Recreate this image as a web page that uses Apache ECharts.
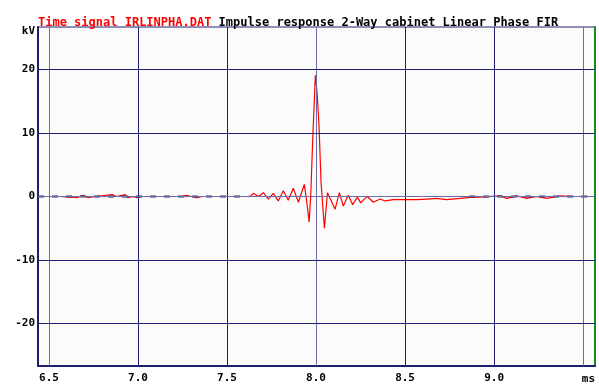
<!DOCTYPE html>
<html>
<head>
<meta charset="utf-8">
<script src="https://cdn.jsdelivr.net/npm/echarts@6/dist/echarts.min.js"></script>
<style>
html,body{margin:0;padding:0;background:#ffffff;}
#chart{width:599px;height:385px;}
</style>
</head>
<body>
<div id="chart"></div>
<script>
// ---- data ----
var titleRed = 'Time signal IRLINPHA.DAT';
var titleBlack = 'Impulse response 2-Way cabinet Linear Phase FIR';
var xMin = 6.438, xMax = 9.567;
var yMin = -26.7, yMax = 26.7;
var xTicks = [6.5, 7.0, 7.5, 8.0, 8.5, 9.0, 9.5];
var xTickLabels = ['6.5', '7.0', '7.5', '8.0', '8.5', '9.0'];
var yTicks = [-20, -10, 0, 10, 20];
var xUnit = 'ms', yUnit = 'kV';

// time (ms) and value (kV) of the red impulse response trace
var sigT = [6.438, 6.560, 6.657, 6.691, 6.719, 6.760, 6.854, 6.880, 6.927, 6.944, 6.970, 6.994, 7.020,
  7.250, 7.270, 7.300, 7.331, 7.360, 7.573, 7.629, 7.648, 7.676, 7.704, 7.732, 7.760, 7.788, 7.816,
  7.844, 7.872, 7.901, 7.934, 7.948, 7.961, 7.970, 7.981, 7.996, 8.006, 8.017, 8.028, 8.047, 8.064,
  8.075, 8.107, 8.131, 8.153, 8.181, 8.206, 8.232, 8.251, 8.275, 8.288, 8.322, 8.360, 8.388, 8.434,
  8.566, 8.622, 8.678, 8.734, 8.809, 8.865, 8.921, 9.034, 9.071, 9.128, 9.184, 9.240, 9.296, 9.371,
  9.446, 9.567];
var sigV = [0, 0, -0.2, 0.2, -0.2, 0, 0.3, 0, 0.3, -0.2, 0, -0.2, 0,
  0, 0.2, 0, -0.2, 0, 0, 0, 0.5, 0, 0.6, -0.4, 0.5, -0.7, 0.9,
  -0.6, 1.3, -0.9, 1.9, -0.9, -4.0, 0, 8.8, 19.1, 16.3, 10.9, 2.2, -5.0, 0.6,
  0.9, -2.0, 0.6, -1.5, 0.2, -1.3, -0.1, -1.0, -0.3, 0, -0.9, -0.4, -0.7, -0.5,
  -0.5, -0.4, -0.3, -0.5, -0.3, -0.15, -0.1, 0.1, -0.3, 0.1, -0.3, 0, -0.3, 0.1,
  0, 0];

// dark reference trace visible as dashes along the baseline
var refT = [6.438, 7.62, 7.7, 8.86, 9.567];
var refV = [0, 0, null, 0, 0];

// ---- build ----
var navy = '#1e1e6e', lightNavy = '#6c6ca8', green = '#109010';
function pairs(a, b) { var o = []; for (var i = 0; i < a.length; i++) o.push([a[i], b[i] === null ? '-' : b[i]]); return o; }

var gridLines = [];
xTicks.forEach(function (v, i) {
  var light = (i === 0 || i === 3 || i === 6);
  gridLines.push({ xAxis: v, lineStyle: { color: light ? lightNavy : navy, width: 1, type: 'solid' } });
});
yTicks.forEach(function (v) {
  gridLines.push({ yAxis: v, lineStyle: { color: v === 0 ? lightNavy : navy, width: 1, type: 'solid' } });
});

var font = 'DejaVu Sans Mono';
var chart = echarts.init(document.getElementById('chart'), null, { renderer: 'canvas' });
chart.setOption({
  animation: false,
  backgroundColor: '#ffffff',
  title: {
    left: 33, top: 12,
    text: '{r|' + titleRed + '} {k|' + titleBlack + '}',
    textStyle: {
      fontFamily: font, fontSize: 12, fontWeight: 'bold',
      rich: {
        r: { color: '#ff0000', fontFamily: font, fontSize: 12, fontWeight: 'bold' },
        k: { color: '#000000', fontFamily: font, fontSize: 12, fontWeight: 'bold' }
      }
    }
  },
  grid: {
    left: 38, right: 4, top: 27, bottom: 11,
    show: true, backgroundColor: '#fbfbfb', borderColor: navy, borderWidth: 1
  },
  xAxis: {
    type: 'value', min: xMin, max: xMax,
    splitLine: { show: false },
    axisTick: { show: false },
    axisLine: { show: true, onZero: false, lineStyle: { color: navy, width: 2 } },
    axisLabel: {
      customValues: xTicks.slice(0, xTickLabels.length),
      formatter: function (v) { return v.toFixed(1); },
      margin: 7, color: '#000', fontFamily: font, fontSize: 11, fontWeight: 'bold'
    },
    name: xUnit, nameLocation: 'end', nameGap: 0,
    nameTextStyle: { align: 'right', verticalAlign: 'top', padding: [8, 0, 0, 0], color: '#000', fontFamily: font, fontSize: 11, fontWeight: 'bold' }
  },
  yAxis: [{
    type: 'value', min: yMin, max: yMax,
    splitLine: { show: false },
    axisTick: { show: false },
    axisLine: { show: true, onZero: false, lineStyle: { color: navy, width: 2 } },
    axisLabel: {
      customValues: yTicks,
      formatter: function (v) { return String(Math.round(v)); },
      margin: 3, color: '#000', fontFamily: font, fontSize: 11, fontWeight: 'bold'
    },
    name: yUnit, nameLocation: 'end', nameGap: -4,
    nameTextStyle: { align: 'right', verticalAlign: 'middle', padding: [0, 3, 0, 0], color: '#000', fontFamily: font, fontSize: 11, fontWeight: 'bold' }
  }, {
    type: 'value', min: yMin, max: yMax, position: 'right',
    splitLine: { show: false }, axisTick: { show: false }, axisLabel: { show: false },
    axisLine: { show: true, lineStyle: { color: green, width: 2 } }
  }],
  series: [{
    name: 'grid', type: 'line', data: [[xMin, 0]], showSymbol: false, silent: true, z: 1,
    lineStyle: { width: 0, opacity: 0 },
    markLine: { silent: true, symbol: 'none', label: { show: false }, animation: false, data: gridLines }
  }, {
    name: 'signal', type: 'line', data: pairs(sigT, sigV), showSymbol: false, z: 3,
    lineStyle: { color: '#ff0000', width: 1.2 }
  }, {
    name: 'reference', type: 'line', data: pairs(refT, refV), showSymbol: false, z: 4, connectNulls: false,
    lineStyle: { color: '#2a2a70', width: 2, type: [6, 8] }
  }]
});
</script>
</body>
</html>
